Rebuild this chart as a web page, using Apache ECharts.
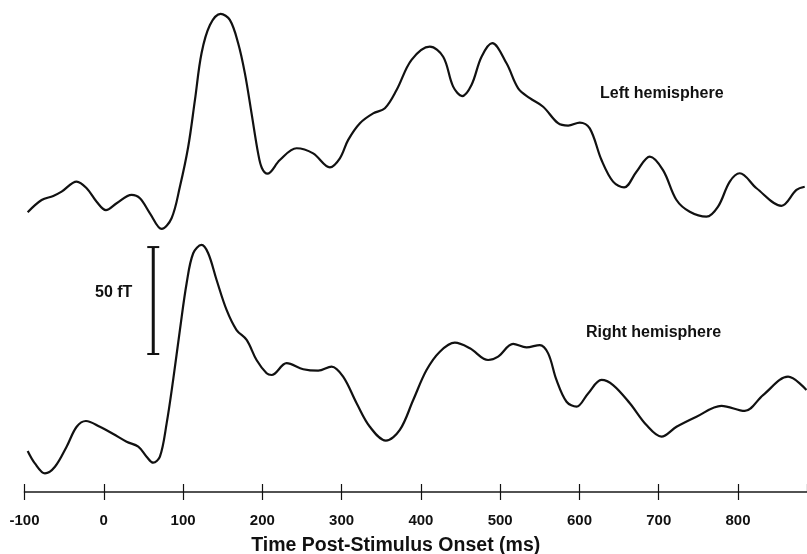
<!DOCTYPE html>
<html>
<head>
<meta charset="utf-8">
<script src="https://cdn.jsdelivr.net/npm/echarts@6/dist/echarts.min.js"></script>
<style>
  html, body { margin: 0; padding: 0; background: #fff; }
  #main { width: 807px; height: 554px; }
</style>
</head>
<body>
<div id="main"></div>
<script>
  // time axis (ms) and tick labels
  var timeMin = -100
  var timeMax = 887
  var tickStep = 100

  // left hemisphere trace: [ms, fT above the time axis]
  var leftHemisphere = [
    [-96.0, 130.8], [-78.4, 136.5], [-63.7, 138.4], [-53.2, 140.4], [-34.2, 145.1], [-21.6, 142.0],
    [-9.0, 135.7], [2.7, 131.8], [16.2, 135.0], [35.1, 138.9], [45.6, 137.3], [58.2, 130.3],
    [73.0, 123.0], [85.5, 128.0], [96.0, 142.7], [106.5, 161.4], [115.0, 183.3], [123.3, 205.1],
    [133.9, 218.3], [147.4, 223.5], [159.0, 220.7], [169.5, 209.8], [178.0, 195.7], [186.4, 177.0],
    [194.7, 158.3], [199.4, 151.5], [206.4, 148.8], [222.1, 155.2], [243.2, 160.7], [264.1, 158.3],
    [285.2, 151.8], [297.8, 156.0], [308.3, 164.6], [323.1, 172.4], [339.8, 177.0], [354.6, 179.4],
    [369.3, 187.9], [388.2, 202.0], [411.3, 208.2], [428.1, 203.5], [440.7, 189.5], [452.0, 185.1],
    [463.8, 190.3], [476.5, 203.5], [489.9, 209.8], [508.0, 200.4], [522.7, 188.7], [537.4, 184.1],
    [554.2, 180.1], [573.0, 172.4], [585.7, 171.3], [600.4, 172.7], [613.0, 170.0], [627.8, 155.2],
    [642.4, 145.1], [656.3, 142.4], [671.9, 149.7], [688.7, 156.8], [705.4, 150.5], [722.4, 136.5],
    [739.1, 131.0], [760.2, 128.7], [774.8, 133.4], [789.6, 145.1], [802.2, 149.0], [823.3, 142.0],
    [854.8, 133.8], [873.7, 141.2], [884.1, 142.7]
  ]

  // right hemisphere trace: [ms, fT above the time axis]
  var rightHemisphere = [
    [-96.0, 19.2], [-86.9, 13.4], [-74.2, 8.7], [-61.6, 11.8], [-46.9, 21.2], [-34.2, 30.5],
    [-22.5, 33.2], [-4.9, 30.5], [12.0, 27.1], [28.8, 23.5], [43.5, 21.2], [54.0, 16.5],
    [62.3, 13.7], [70.8, 16.5], [79.3, 32.1], [87.5, 52.4], [96.0, 75.7], [104.5, 97.6],
    [112.8, 111.6], [123.3, 115.5], [131.7, 111.6], [142.3, 99.1], [154.9, 85.1], [167.5, 75.7],
    [180.2, 71.1], [192.7, 61.7], [205.4, 55.5], [211.7, 54.7], [230.6, 60.2], [251.6, 57.4],
    [270.4, 56.7], [287.3, 58.6], [301.9, 53.9], [318.9, 41.5], [335.6, 30.5], [355.8, 24.0],
    [373.4, 29.0], [390.3, 43.0], [407.1, 57.0], [423.9, 65.6], [442.8, 69.8], [461.8, 67.2],
    [484.8, 61.7], [497.4, 63.3], [516.3, 69.2], [533.2, 67.6], [550.0, 68.7], [560.5, 64.8],
    [571.0, 52.4], [583.7, 42.2], [596.3, 39.9], [610.9, 46.1], [627.8, 52.4], [642.4, 50.0],
    [663.5, 41.5], [684.5, 31.3], [703.4, 25.9], [722.4, 30.5], [747.6, 35.2], [779.1, 40.3],
    [808.5, 37.9], [831.6, 45.3], [863.1, 53.9], [886.3, 47.7]
  ]

  // calibration bar: [ms, bottom fT, top fT]
  var scaleBarFT = 50
  var scaleBar = [[62.4, 64.5, 64.5 + scaleBarFT]]

  var fontFamily = '"Liberation Sans", Arial, sans-serif'
  var ink = '#111'

  var chart = echarts.init(document.getElementById('main'))

  var option = {
    animation: false,
    backgroundColor: '#fff',
    grid: {
      left: 24.5,
      right: 0,
      top: 0,
      bottom: 62,
      containLabel: false,
      outerBoundsMode: 'none'
    },
    xAxis: [{
      type: 'value',
      min: timeMin,
      max: timeMax,
      interval: tickStep,
      position: 'bottom',
      splitLine: { show: false },
      axisLine: { show: true, lineStyle: { color: '#1a1a1a', width: 1.6 } },
      axisTick: { show: true, length: 8, lineStyle: { color: '#111', width: 1.2 } },
      axisLabel: {
        margin: 21,
        color: ink,
        fontSize: 15,
        fontWeight: 'bold',
        fontFamily: fontFamily,
        showMaxLabel: false
      },
      name: 'Time Post-Stimulus Onset (ms)',
      nameLocation: 'middle',
      nameGap: 44,
      nameTextStyle: {
        color: ink,
        fontSize: 19.5,
        fontWeight: 'bold',
        fontFamily: fontFamily,
        padding: [0, 40, 0, 0]
      }
    }, {
      // inner half of the tick marks
      type: 'value',
      min: timeMin,
      max: timeMax,
      interval: tickStep,
      position: 'bottom',
      splitLine: { show: false },
      axisLine: { show: false },
      axisTick: { show: true, inside: true, length: 8, lineStyle: { color: '#111', width: 1.2 } },
      axisLabel: { show: false }
    }],
    yAxis: {
      type: 'value',
      min: 0,
      max: 230,
      show: false
    },
    graphic: [{
      type: 'text',
      left: 600,
      top: 86,
      style: { text: 'Left hemisphere', fill: ink, font: 'bold 16px ' + fontFamily }
    }, {
      type: 'text',
      left: 586,
      top: 325,
      style: { text: 'Right hemisphere', fill: ink, font: 'bold 16px ' + fontFamily }
    }, {
      type: 'text',
      left: 95,
      top: 285,
      style: { text: scaleBarFT + ' fT', fill: ink, font: 'bold 16px ' + fontFamily }
    }],
    series: [{
      name: 'Left hemisphere',
      type: 'line',
      data: leftHemisphere,
      smooth: 0.35,
      showSymbol: false,
      lineStyle: { color: ink, width: 2.2 }
    }, {
      name: 'Right hemisphere',
      type: 'line',
      data: rightHemisphere,
      smooth: 0.35,
      showSymbol: false,
      lineStyle: { color: ink, width: 2.2 }
    }, {
      name: 'scale',
      type: 'custom',
      data: scaleBar,
      renderItem: function (params, api) {
        var lo = api.coord([api.value(0), api.value(1)])
        var hi = api.coord([api.value(0), api.value(2)])
        var cap = 6
        return {
          type: 'group',
          children: [{
            type: 'line',
            shape: { x1: lo[0], y1: lo[1], x2: hi[0], y2: hi[1] },
            style: { stroke: ink, lineWidth: 3 }
          }, {
            type: 'line',
            shape: { x1: lo[0] - cap, y1: lo[1], x2: lo[0] + cap, y2: lo[1] },
            style: { stroke: ink, lineWidth: 2 }
          }, {
            type: 'line',
            shape: { x1: hi[0] - cap, y1: hi[1], x2: hi[0] + cap, y2: hi[1] },
            style: { stroke: ink, lineWidth: 2 }
          }]
        }
      }
    }]
  }

  chart.setOption(option)
</script>
</body>
</html>
